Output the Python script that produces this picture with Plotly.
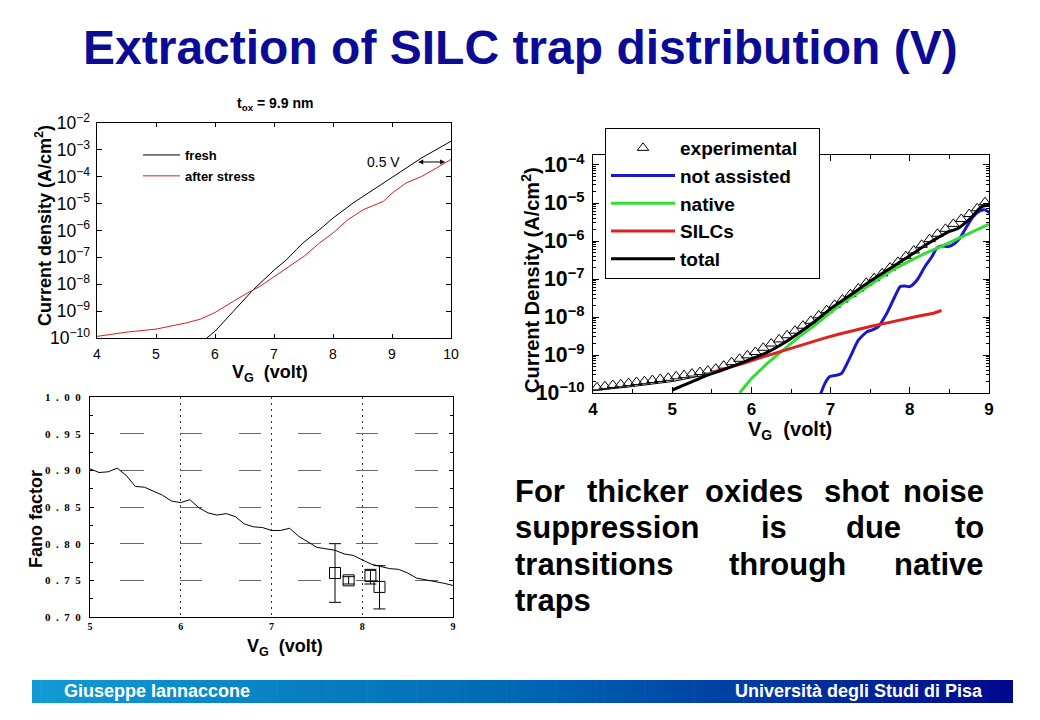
import plotly.graph_objects as go

# ---------------- data ----------------
# top-left: t_ox = 9.9 nm
fresh_v = [5.86, 6.0, 6.31, 6.65, 7.01, 7.21, 7.38, 7.49, 7.77, 8.0, 8.34, 8.51, 9.0, 9.5, 10.0]
fresh_j = [1.0e-10, 1.78e-10, 9.8e-10, 6.3e-9, 3.5e-8, 8.1e-8, 1.95e-7, 3.4e-7, 1.07e-6, 2.9e-6,
           1.05e-5, 1.86e-5, 9.8e-5, 5.0e-4, 2.1e-3]
stress_v = [4.0, 4.51, 5.0, 5.5, 5.75, 6.0, 6.31, 6.5, 6.76, 7.01, 7.27, 7.51, 7.77, 8.0, 8.25,
            8.51, 8.85, 9.0, 9.24, 9.5, 9.75, 10.0]
stress_j = [1.15e-10, 1.66e-10, 2.14e-10, 3.6e-10, 5.0e-10, 8.9e-10, 2.3e-9, 4.1e-9, 8.3e-9, 1.95e-8,
            4.7e-8, 1.1e-7, 3.4e-7, 8.1e-7, 2.5e-6, 5.9e-6, 1.2e-5, 2.45e-5, 5.9e-5, 1.02e-4,
            2.1e-4, 4.4e-4]

# right: model components
exp_v = [4.05, 4.15, 4.25, 4.35, 4.45, 4.55, 4.65, 4.75, 4.85, 4.95,
         5.05, 5.15, 5.25, 5.35, 5.45, 5.55, 5.65, 5.75, 5.85, 5.95,
         6.05, 6.15, 6.25, 6.35, 6.45, 6.55, 6.65, 6.75, 6.85, 6.95,
         7.05, 7.15, 7.25, 7.35, 7.45, 7.55, 7.65, 7.75, 7.85, 7.95,
         8.05, 8.15, 8.25, 8.35, 8.45, 8.55, 8.65, 8.75, 8.85, 8.95]
exp_j = [1.41e-10, 1.51e-10, 1.62e-10, 1.70e-10, 1.82e-10, 1.95e-10, 2.04e-10, 2.19e-10, 2.34e-10, 2.51e-10,
         2.75e-10, 2.95e-10, 3.24e-10, 3.55e-10, 3.89e-10, 4.37e-10, 5.25e-10, 6.46e-10, 7.94e-10, 9.77e-10,
         1.20e-9, 1.55e-9, 2.00e-9, 2.57e-9, 3.31e-9, 4.37e-9, 5.89e-9, 7.94e-9, 1.10e-8, 1.51e-8,
         2.09e-8, 2.88e-8, 3.98e-8, 5.62e-8, 7.94e-8, 1.05e-7, 1.41e-7, 2.00e-7, 2.82e-7, 3.98e-7,
         5.62e-7, 7.94e-7, 1.12e-6, 1.55e-6, 2.09e-6, 2.82e-6, 3.80e-6, 5.13e-6, 7.24e-6, 1.05e-5]

na_v = [6.87, 6.93, 6.99, 7.08, 7.14, 7.25, 7.35, 7.46, 7.52, 7.60, 7.71, 7.81, 7.88, 7.94,
        8.00, 8.09, 8.19, 8.28, 8.34, 8.40, 8.49, 8.57, 8.63, 8.72, 8.80, 8.89, 8.95, 9.01]
na_j = [8.9e-11, 1.82e-10, 2.7e-10, 2.95e-10, 3.3e-10, 9.1e-10, 2.45e-9, 4.1e-9, 4.5e-9, 5.5e-9,
        1.26e-8, 3.4e-8, 6.3e-8, 6.5e-8, 6.3e-8, 9.3e-8, 2.1e-7, 3.9e-7, 6.5e-7, 7.4e-7,
        7.1e-7, 8.7e-7, 1.17e-6, 2.4e-6, 4.4e-6, 6.3e-6, 6.6e-6, 5.4e-6]

native_v = [5.85, 6.0, 6.2, 6.4, 6.6, 6.8, 7.0, 7.2, 7.4, 7.6, 7.8, 8.0, 8.2, 8.4, 8.6, 8.8, 9.0]
native_j = [1.0e-10, 2.4e-10, 6.0e-10, 1.38e-9, 3.0e-9, 6.0e-9, 1.32e-8, 2.7e-8, 5.1e-8, 1.0e-7,
            1.82e-7, 3.0e-7, 4.8e-7, 7.2e-7, 1.15e-6, 1.78e-6, 2.8e-6]

silc_v = [5.5, 5.7, 5.9, 6.1, 6.3, 6.5, 6.7, 6.9, 7.1, 7.3, 7.5, 7.7, 7.9, 8.1, 8.3, 8.4]
silc_j = [3.5e-10, 4.5e-10, 6.0e-10, 8.3e-10, 1.12e-9, 1.48e-9, 2.0e-9, 2.7e-9, 3.5e-9, 4.5e-9,
          5.6e-9, 6.9e-9, 8.7e-9, 1.05e-8, 1.26e-8, 1.48e-8]

total_v = [5.0, 5.2, 5.4, 5.6, 5.8, 6.0, 6.2, 6.4, 6.6, 6.8, 7.0, 7.2, 7.4, 7.6, 7.8, 8.0,
           8.2, 8.4, 8.5, 8.6, 8.7, 8.8, 8.9, 9.0]
total_j = [1.2e-10, 1.78e-10, 2.7e-10, 3.8e-10, 5.4e-10, 7.9e-10, 1.17e-9, 2.0e-9, 3.8e-9, 7.6e-9,
           1.66e-8, 3.2e-8, 6.3e-8, 1.2e-7, 2.2e-7, 4.1e-7, 7.8e-7, 1.38e-6, 1.78e-6, 2.1e-6,
           3.0e-6, 4.7e-6, 7.9e-6, 8.9e-6]

low_v = [4.0, 4.5, 5.0, 5.5]
low_j = [1.15e-10, 1.48e-10, 2.0e-10, 3.2e-10]

# bottom-left: Fano factor
fano_v = [5.0, 5.1, 5.2, 5.3, 5.4, 5.5, 5.6, 5.7, 5.8, 5.9, 6.0, 6.1, 6.2, 6.3, 6.4, 6.5, 6.6,
          6.7, 6.8, 6.9, 7.0, 7.1, 7.2, 7.3, 7.4, 7.5, 7.6, 7.7, 7.8, 7.9, 8.0, 8.1, 8.2, 8.3,
          8.4, 8.5, 8.6, 8.7, 8.8, 8.9, 9.0]
fano_f = [0.902, 0.897, 0.898, 0.903, 0.893, 0.878, 0.877, 0.872, 0.866, 0.858, 0.856, 0.860,
          0.849, 0.842, 0.839, 0.841, 0.837, 0.827, 0.823, 0.822, 0.818, 0.818, 0.821, 0.810,
          0.803, 0.795, 0.793, 0.791, 0.786, 0.784, 0.778, 0.772, 0.769, 0.766, 0.765, 0.760,
          0.753, 0.751, 0.749, 0.746, 0.743]
meas_v = [7.70, 7.85, 8.09, 8.19]
meas_f = [0.760, 0.750, 0.756, 0.741]
meas_up = [0.040, 0.005, 0.009, 0.029]
meas_dn = [0.040, 0.005, 0.011, 0.030]

fano_ticks = [0.70, 0.75, 0.80, 0.85, 0.90, 0.95, 1.00]
fano_ticktext = ["0\u2002.\u20027\u20020", "0\u2002.\u20027\u20025", "0\u2002.\u20028\u20020",
                 "0\u2002.\u20028\u20025", "0\u2002.\u20029\u20020", "0\u2002.\u20029\u20025",
                 "1\u2002.\u20020\u20020"]

text_lines = [
    ["For", "thicker", "oxides", "shot", "noise"],
    ["suppression", "is", "due", "to"],
    ["transitions", "through", "native"],
    ["traps"],
]

# ---------------- layout helpers ----------------
W, H = 1040, 720
def px(x):
    return x / W
def py(y):
    return 1 - y / H

SANS = "Liberation Sans, Arial, sans-serif"
SERIF = "Liberation Serif, Times New Roman, serif"

fig = go.Figure()

# top-left traces
fig.add_trace(go.Scatter(x=fresh_v, y=fresh_j, mode="lines", name="fresh",
                         line=dict(color="black", width=1), xaxis="x", yaxis="y",
                         legend="legend", legendgroup="a"))
fig.add_trace(go.Scatter(x=stress_v, y=stress_j, mode="lines", name="after stress",
                         line=dict(color="#d42020", width=1), xaxis="x", yaxis="y",
                         legend="legend", legendgroup="b"))

# right traces
fig.add_trace(go.Scatter(x=exp_v, y=exp_j, mode="markers", name="experimental\u00a0\u00a0\u00a0",
                         marker=dict(symbol="triangle-up-open", size=10, color="black",
                                     line=dict(width=1, color="black")),
                         xaxis="x2", yaxis="y2", legend="legend2", legendrank=1))
fig.add_trace(go.Scatter(x=low_v, y=low_j, mode="lines", showlegend=False,
                         line=dict(color="black", width=1), xaxis="x2", yaxis="y2"))
fig.add_trace(go.Scatter(x=na_v, y=na_j, mode="lines", name="not assisted",
                         line=dict(color="#1818c8", width=3, shape="spline", smoothing=0.6),
                         xaxis="x2", yaxis="y2", legend="legend2", legendrank=2))
fig.add_trace(go.Scatter(x=native_v, y=native_j, mode="lines", name="native",
                         line=dict(color="#33dd33", width=3),
                         xaxis="x2", yaxis="y2", legend="legend2", legendrank=3))
fig.add_trace(go.Scatter(x=silc_v, y=silc_j, mode="lines", name="SILCs",
                         line=dict(color="#e02020", width=3),
                         xaxis="x2", yaxis="y2", legend="legend2", legendrank=4))
fig.add_trace(go.Scatter(x=total_v, y=total_j, mode="lines", name="total",
                         line=dict(color="black", width=3, shape="spline", smoothing=0.4),
                         xaxis="x2", yaxis="y2", legend="legend2", legendrank=5))

# bottom-left traces
fig.add_trace(go.Scatter(x=fano_v, y=fano_f, mode="lines", showlegend=False,
                         line=dict(color="black", width=1), xaxis="x3", yaxis="y3"))
fig.add_trace(go.Scatter(x=meas_v, y=meas_f, mode="markers", showlegend=False,
                         marker=dict(symbol="square-open", size=11, color="black",
                                     line=dict(width=1, color="black")),
                         error_y=dict(type="data", symmetric=False, array=meas_up,
                                      arrayminus=meas_dn, width=6, thickness=1, color="black"),
                         xaxis="x3", yaxis="y3"))

common = dict(showline=True, mirror="allticks", linecolor="black", linewidth=1,
              showgrid=False, zeroline=False, ticks="inside", tickcolor="black", automargin=False)

# dotted horizontal grid segments of the Fano panel (dash pattern, px)
fano_griddash = "0px,30px,24px,36px,22px,37px,22px,37px,23px,35px,22px,37px,23px,60px"

layout = dict(
    width=W, height=H, autosize=False,
    margin=dict(l=0, r=0, t=0, b=0, pad=0, autoexpand=False),
    paper_bgcolor="white", plot_bgcolor="white",
    font=dict(family=SANS, color="black"),
    xaxis=dict(domain=[px(97), px(451)], anchor="y", range=[4, 10], dtick=1, ticklen=4,
               tickfont=dict(size=14), ticklabelstandoff=3, **common),
    yaxis=dict(domain=[py(338), py(123)], anchor="x", type="log", range=[-10, -2], dtick=1,
               exponentformat="power", ticklen=5, tickfont=dict(size=14), ticklabelstandoff=3,
               **common),
    xaxis2=dict(domain=[px(593), px(989)], anchor="y2", range=[4, 9], dtick=1, ticklen=6,
                tickfont=dict(size=17, weight="bold"), ticklabelstandoff=1,
                minor=dict(dtick=0.5, ticks="inside", ticklen=4, tickcolor="black"), **common),
    yaxis2=dict(domain=[py(393), py(155)], anchor="x2", type="log", range=[-10, -3.737], dtick=1,
                exponentformat="power", ticklen=6, tickfont=dict(size=17, weight="bold"),
                ticklabelstandoff=4,
                minor=dict(dtick="D1", ticks="inside", ticklen=3, tickcolor="black"), **common),
    xaxis3=dict(domain=[px(90), px(453)], anchor="y3", range=[5, 9], dtick=1, ticklen=0,
                tickfont=dict(size=10, family=SERIF, weight="bold"), automargin=False,
                showline=True, mirror=True, linecolor="black", linewidth=1, zeroline=False,
                showgrid=True, gridcolor="#333", gridwidth=1, griddash="2px,4px", ticks=""),
    yaxis3=dict(domain=[py(617), py(397)], anchor="x3", range=[0.70, 1.00], automargin=False,
                tickvals=fano_ticks, ticktext=fano_ticktext, ticklabelstandoff=6,
                tickfont=dict(size=11, family=SERIF, weight="bold"),
                showline=True, mirror="allticks", linecolor="black", linewidth=1, zeroline=False,
                showgrid=True, gridcolor="#666", gridwidth=1, griddash=fano_griddash,
                ticks="inside", ticklen=4, tickcolor="black",
                minor=dict(dtick=0.025, ticks="inside", ticklen=3, tickcolor="black")),
    legend=dict(x=px(138), y=py(140), xanchor="left", yanchor="top", bgcolor="rgba(0,0,0,0)",
                borderwidth=0, font=dict(size=13, weight="bold"), tracegroupgap=1,
                itemwidth=37, traceorder="grouped"),
    legend2=dict(x=px(605), y=py(128), xanchor="left", yanchor="top", bgcolor="white",
                 bordercolor="black", borderwidth=1, font=dict(size=19, weight="bold"),
                 itemwidth=64, traceorder="normal"),
)
fig.update_layout(**layout)

ann = []
def note(xx, yy, text, size, weight="bold", color="black", angle=0, xanchor="center"):
    ann.append(dict(x=px(xx), y=py(yy), xref="paper", yref="paper", showarrow=False,
                    xanchor=xanchor, yanchor="middle", text=text, textangle=angle,
                    font=dict(size=size, weight=weight, color=color)))

# slide title
note(520, 48, "Extraction of SILC trap distribution (V)", 48, color="#0b0b96")
# top-left texts
note(275, 104, "t<sub>ox</sub> = 9.9 nm", 14)
note(43, 226, "Current density (A/cm<sup>2</sup>)", 18, angle=-90)
note(270, 373, "V<sub>G</sub>&nbsp; (volt)", 18)
note(383, 162, "0.5 V", 14, weight="normal")
ann.append(dict(x=9.9, y=-3.45, xref="x", yref="y", ax=9.42, ay=-3.45, axref="x", ayref="y",
                text="", showarrow=True, arrowhead=2, arrowside="end+start", arrowsize=1,
                arrowwidth=1, arrowcolor="black"))
# right texts
note(531, 280, "Current Density (A/cm<sup>2</sup>)", 20, angle=-90)
note(790, 430, "V<sub>G</sub>&nbsp; (volt)", 20)
# bottom-left texts
note(36, 519, "Fano factor", 18, angle=-90)
note(285, 647, "V<sub>G</sub>&nbsp; (volt)", 18)

# justified paragraph, one annotation per word
line_y = [491, 527, 564, 600]
word_pos = [
    [("left", 513), ("center", 637.5), ("center", 753.5), ("center", 856), ("right", 986)],
    [("left", 513), ("center", 774), ("center", 873), ("right", 986)],
    [("left", 513), ("center", 787.5), ("right", 986)],
    [("left", 513)],
]
for words, poss, yy in zip(text_lines, word_pos, line_y):
    for w, (a, xx) in zip(words, poss):
        note(xx, yy, w, 31, xanchor=a)

# footer text
note(62, 691, "Giuseppe Iannaccone", 18, color="white", xanchor="left")
note(985, 691, "Università degli Studi di Pisa", 18, color="white", xanchor="right")
fig.update_layout(annotations=ann)

# footer gradient bar
stops = [(0.0, (17, 155, 212)), (0.5, (0, 104, 180)), (1.0, (0, 8, 142))]
def col(t):
    for (t0, c0), (t1, c1) in zip(stops[:-1], stops[1:]):
        if t <= t1:
            f = (t - t0) / (t1 - t0)
            return "rgb(%d,%d,%d)" % tuple(round(a + (b - a) * f) for a, b in zip(c0, c1))
    return "rgb(%d,%d,%d)" % stops[-1][1]

x0, x1, n = 32, 1013, 120
shapes = []
for i in range(n):
    a = x0 + (x1 - x0) * i / n
    b = x0 + (x1 - x0) * (i + 1) / n + 0.6
    shapes.append(dict(type="rect", xref="paper", yref="paper", x0=px(a), x1=px(min(b, x1)),
                       y0=py(703), y1=py(680), fillcolor=col((i + 0.5) / n),
                       line=dict(width=0), layer="below"))
fig.update_layout(shapes=shapes)

fig.write_html("out.html", config={"displayModeBar": False},
               post_script="document.body.style.margin='0px';document.body.style.overflow='hidden';")
